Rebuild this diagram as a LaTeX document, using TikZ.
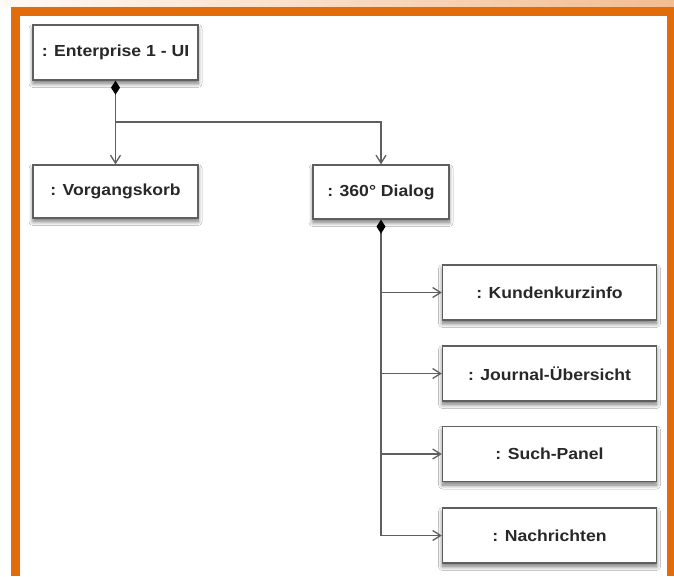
\documentclass[tikz,border=0pt]{standalone}
\usepackage{fontspec}
\setmainfont{Liberation Sans}[FakeStretch=1.1]
\usepackage{tikz}
\usetikzlibrary{arrows.meta,shadows.blur,positioning}
\definecolor{frameorange}{RGB}{227,108,10}
\definecolor{linegray}{RGB}{95,95,95}
\definecolor{textgray}{RGB}{40,40,40}
\tikzset{
  obj/.style={draw=linegray, line width=1.3pt, fill=white, text=textgray,
    font=\fontsize{16}{19}\selectfont\bfseries,
    blur shadow={shadow xshift=0pt, shadow yshift=-3.5pt, shadow blur radius=4pt,
      shadow blur steps=10, shadow opacity=55}},
  link/.style={draw=linegray, line width=1.3pt, -{Straight Barb[length=8pt,width=10pt]}},
  comp/.style={link, {Diamond[length=14pt,width=9pt,black]}-{Straight Barb[length=8pt,width=10pt]}},
}

\begin{document}
\begin{tikzpicture}[x=1pt, y=-1pt]
    \useasboundingbox (0,0) rectangle (674,576);

    % Frame
    \shade[left color=orange!4, right color=frameorange!45] (0,0) rectangle (674,7);
    \fill[frameorange] (11,7) rectangle (674,576);
    \fill[white] (20,16) rectangle (667,576);

    % Objects
    \node[obj, minimum width=165pt, minimum height=55pt] (ent) at (115.5,52.5) {: Enterprise 1 - UI};
    \node[obj, minimum width=165pt, minimum height=53pt] (vor) at (115.5,191.5) {: Vorgangskorb};
    \node[obj, minimum width=136pt, minimum height=54pt] (dia) at (381,192) {: 360° Dialog};

    \node[obj, minimum width=214pt, minimum height=55pt] (kun) at (549.5,292.5) {: Kundenkurzinfo};
    \node[obj, minimum width=214pt, minimum height=55pt] (jou) at (549.5,373.5) {: Journal-Übersicht};
    \node[obj, minimum width=214pt, minimum height=55pt] (such) at (549.5,454) {: Such-Panel};
    \node[obj, minimum width=214pt, minimum height=55pt] (nac) at (549.5,535.5) {: Nachrichten};

    % Composition links
    \coordinate (fork) at (115.5,122);
    \draw[comp] (ent.south) -- (vor.north);
    \draw[link] (fork) -| (dia.north);

    \draw[comp] (dia.south) |- (nac.west);
    \draw[link] (dia.south |- kun.west) -- (kun.west);
    \draw[link] (dia.south |- jou.west) -- (jou.west);
    \draw[link] (dia.south |- such.west) -- (such.west);
\end{tikzpicture}
\end{document}
